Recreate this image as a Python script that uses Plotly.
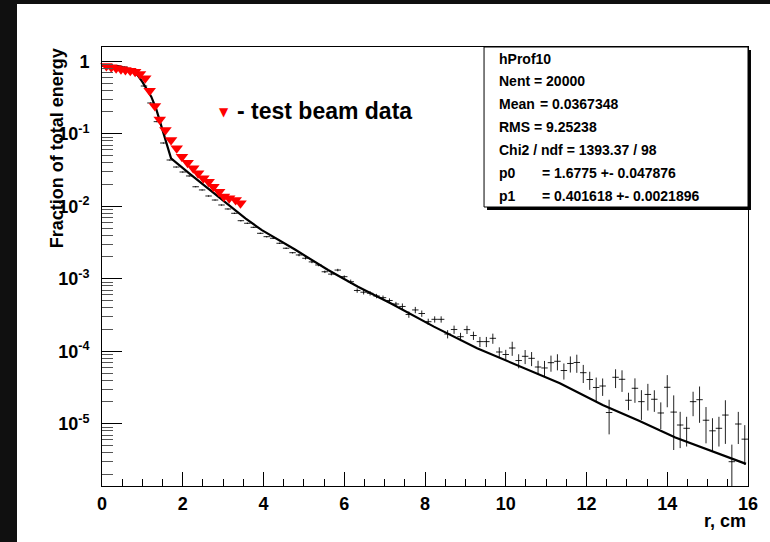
import plotly.graph_objects as go

# ---------------- data ----------------
# profile histogram: 100 bins from 0 to 16 cm
bin_lo = 0.0
bin_w = 0.16
n_bins = 100
hist_vals = [
    0.889, 0.875, 0.861, 0.834, 0.771, 0.647, 0.456, 0.266, 0.147, 0.0746,
    0.0435, 0.0348, 0.0297, 0.0262, 0.0186, 0.0168, 0.01387, 0.0122, 0.01042, 0.00918,
    0.0080, 6.33e-3, 5.83e-3, 5.13e-3, 4.24e-3, 3.81e-3, 3.62e-3, 3.09e-3, 2.64e-3, 2.29e-3,
    2.13e-3, 1.92e-3, 1.71e-3, 1.55e-3, 1.25e-3, 1.16e-3, 1.32e-3, 1.07e-3, 9.12e-4, 6.90e-4,
    6.53e-4, 6.31e-4, 5.79e-4, 5.49e-4, 5.02e-4, 4.49e-4, 4.15e-4, 3.22e-4, 3.72e-4, 3.32e-4,
    2.56e-4, 2.76e-4, 2.76e-4, 1.73e-4, 2.00e-4, 1.59e-4, 1.99e-4, 1.65e-4, 1.36e-4, 1.36e-4,
    1.51e-4, 9.78e-5, 9.03e-5, 1.11e-4, 7.46e-5, 8.53e-5, 8.0e-5, 6.07e-5, 5.89e-5, 6.97e-5,
    7.28e-5, 5.43e-5, 6.79e-5, 7.01e-5, 5.07e-5, 4.08e-5, 3.17e-5, 3.32e-5, 1.43e-5, 4.38e-5,
    4.11e-5, 2.11e-5, 3.09e-5, 2.02e-5, 2.54e-5, 2.18e-5, 1.41e-5, 3.19e-5, 1.45e-5, 9.62e-6,
    8.67e-6, 2.02e-5, 2.15e-5, 1.12e-5, 8.0e-6, 8.67e-6, 1.32e-5, 3.0e-6, 9.93e-6, 6.14e-6,
]
hist_err_rel = [
    0.01, 0.01, 0.01, 0.01, 0.01, 0.01, 0.01, 0.01, 0.01, 0.01,
    0.01, 0.01, 0.01, 0.01, 0.01, 0.01, 0.01, 0.01, 0.01, 0.01,
    0.02, 0.02, 0.02, 0.02, 0.02, 0.02, 0.02, 0.02, 0.02, 0.02,
    0.04, 0.04, 0.04, 0.04, 0.04, 0.04, 0.04, 0.04, 0.07, 0.07,
    0.07, 0.07, 0.07, 0.07, 0.07, 0.07, 0.10, 0.10, 0.10, 0.10,
    0.10, 0.10, 0.10, 0.13, 0.13, 0.13, 0.13, 0.13, 0.16, 0.16,
    0.16, 0.16, 0.16, 0.22, 0.22, 0.22, 0.22, 0.22, 0.25, 0.25,
    0.25, 0.25, 0.25, 0.28, 0.28, 0.28, 0.37, 0.27, 0.50, 0.29,
    0.33, 0.27, 0.37, 0.44, 0.40, 0.33, 0.40, 0.47, 0.70, 0.52,
    0.44, 0.37, 0.52, 0.52, 0.49, 0.44, 0.60, 0.72, 0.47, 0.56,
]

# fit curve
fit_r = [0.0, 0.4, 0.7, 0.85, 1.0, 1.22, 1.34, 1.49, 1.60, 1.71, 2.16, 2.57, 3.07,
         3.56, 3.96, 4.79, 5.60, 6.34, 7.16, 8.22, 9.29, 10.19, 11.34, 12.4, 13.3,
         14.2, 15.1, 15.95]
fit_v = [0.87, 0.85, 0.77, 0.68, 0.52, 0.325, 0.222, 0.115, 0.072, 0.0457, 0.0285,
         0.0186, 0.01096, 6.76e-3, 4.68e-3, 2.51e-3, 1.32e-3, 7.76e-4, 4.57e-4,
         2.19e-4, 1.10e-4, 6.76e-5, 3.63e-5, 1.82e-5, 1.10e-5, 6.46e-6, 4.17e-6,
         2.80e-6]

# test beam data
tb_r = [0.11, 0.23, 0.35, 0.47, 0.58, 0.70, 0.82, 0.94, 1.07, 1.18, 1.31, 1.43,
        1.57, 1.71, 1.85, 1.98, 2.12, 2.26, 2.38, 2.51, 2.64, 2.76, 2.90, 3.02,
        3.15, 3.31, 3.43]
tb_v = [0.861, 0.826, 0.800, 0.776, 0.759, 0.742, 0.719, 0.668, 0.583, 0.393,
        0.242, 0.158, 0.113, 0.0821, 0.0631, 0.0483, 0.0399, 0.0334, 0.0285,
        0.0243, 0.0218, 0.0186, 0.0159, 0.0136, 0.0129, 0.0122, 0.0110]

y_tickvals = [1e-5, 1e-4, 1e-3, 1e-2, 1e-1, 1]
y_ticktext = ["10<sup>-5</sup>", "10<sup>-4</sup>", "10<sup>-3</sup>",
              "10<sup>-2</sup>", "10<sup>-1</sup>", "1"]

stats_lines = [
    ("hProf10", None),
    ("Nent = 20000", None),
    ("Mean", "= 0.0367348"),
    ("RMS", "= 9.25238"),
    ("Chi2 / ndf = 1393.37 / 98", None),
    ("p0", "= 1.6775 +- 0.047876"),
    ("p1", "= 0.401618 +- 0.0021896"),
]

# ---------------- layout helpers ----------------
# the page is 770x542; the figure (white canvas) sits at left=17, top=4 on a dark page
PAGE_W, PAGE_H = 770, 542
OFF_X, OFF_Y = 17, 4
W, H = PAGE_W - OFF_X, PAGE_H - OFF_Y
PLOT_L, PLOT_R, PLOT_T, PLOT_B = 102, 753, 47, 486   # page pixels of the plot frame
L, R, T, B = PLOT_L - OFF_X, PAGE_W - PLOT_R, PLOT_T - OFF_Y, PAGE_H - PLOT_B
PW, PH = PLOT_R - PLOT_L, PLOT_B - PLOT_T


def fx(p):
    return (p - PLOT_L) / PW


def fy(p):
    return (PLOT_B - p) / PH


FONT = "Liberation Sans, Arial, Helvetica, sans-serif"

bin_c = [bin_lo + bin_w * (i + 0.5) for i in range(n_bins)]
hist_err = [v * e for v, e in zip(hist_vals, hist_err_rel)]

# minor tick positions of the log axis (2..9 x each decade)
minor_vals = [m * 10.0 ** e for e in range(-6, 1) for m in range(2, 10)]

fig = go.Figure()

fig.add_trace(go.Scatter(
    x=bin_c, y=hist_vals, mode="markers",
    marker=dict(size=1, color="black"),
    error_x=dict(type="constant", value=bin_w / 2, width=0, thickness=1, color="#222"),
    error_y=dict(type="data", array=hist_err, width=0, thickness=1, color="#222"),
    showlegend=False, hoverinfo="skip",
))

fig.add_trace(go.Scatter(
    x=fit_r, y=fit_v, mode="lines",
    line=dict(color="black", width=2.2),
    showlegend=False, hoverinfo="skip",
))

fig.add_trace(go.Scatter(
    x=tb_r, y=tb_v, mode="markers",
    marker=dict(symbol="triangle-down", size=11, color="#ff0000", line=dict(width=0)),
    cliponaxis=False, showlegend=False, hoverinfo="skip",
))

shapes = []
# stats box shadow and box
shapes.append(dict(type="rect", xref="paper", yref="paper", layer="above",
                   x0=fx(490), x1=fx(756), y0=fy(210), y1=fy(50),
                   fillcolor="black", line=dict(width=0)))
shapes.append(dict(type="rect", xref="paper", yref="paper", layer="above",
                   x0=fx(487), x1=fx(753), y0=fy(207), y1=fy(47),
                   fillcolor="white", line=dict(color="black", width=1)))

annotations = []
line_y = [59, 81, 104, 127, 150, 173, 196]
val_x = {"Mean": 541, "RMS": 535, "p0": 543, "p1": 543}
for (lab, val), yy in zip(stats_lines, line_y):
    annotations.append(dict(xref="paper", yref="paper", x=fx(500), y=fy(yy),
                            xanchor="left", yanchor="middle", showarrow=False,
                            text=lab, font=dict(family=FONT, size=14, color="black", weight="bold")))
    if val is not None:
        annotations.append(dict(xref="paper", yref="paper", x=fx(val_x[lab]), y=fy(yy),
                                xanchor="left", yanchor="middle", showarrow=False,
                                text=val, font=dict(family=FONT, size=14, color="black", weight="bold")))

# legend-like label
annotations.append(dict(xref="paper", yref="paper", x=fx(225), y=fy(112),
                        xanchor="center", yanchor="middle", showarrow=False,
                        text="▼", font=dict(family="DejaVu Sans", size=12, color="#ff0000")))
annotations.append(dict(xref="paper", yref="paper", x=fx(236), y=fy(111),
                        xanchor="left", yanchor="middle", showarrow=False,
                        text="- test beam data",
                        font=dict(family=FONT, size=23, color="black", weight="bold")))
# axis titles
annotations.append(dict(xref="paper", yref="paper", x=fx(57), y=fy(148),
                        xanchor="center", yanchor="middle", showarrow=False, textangle=-90,
                        text="Fraction of total energy",
                        font=dict(family=FONT, size=18, color="black", weight="bold")))
annotations.append(dict(xref="paper", yref="paper", x=fx(753), y=fy(521),
                        xanchor="right", yanchor="middle", showarrow=False,
                        text="r, cm",
                        font=dict(family=FONT, size=18, color="black", weight="bold")))

fig.update_layout(
    width=W, height=H, autosize=False,
    margin=dict(l=L, r=R, t=T, b=B, pad=0),
    paper_bgcolor="white", plot_bgcolor="white",
    shapes=shapes, annotations=annotations,
    xaxis=dict(
        range=[0, 16], tickmode="linear", tick0=0, dtick=2,
        ticks="inside", ticklen=14, tickwidth=1, tickcolor="black",
        showline=True, linecolor="black", linewidth=1, mirror=True,
        showgrid=False, zeroline=False,
        tickfont=dict(family=FONT, size=18, color="black", weight="bold"),
        ticklabelstandoff=1,
        minor=dict(tickmode="linear", tick0=0, dtick=0.5, ticks="inside", ticklen=7,
                   tickwidth=1, tickcolor="black", showgrid=False),
    ),
    yaxis=dict(
        type="log", range=[-5.858, 0.197],
        tickmode="array", tickvals=y_tickvals, ticktext=y_ticktext,
        ticks="inside", ticklen=20, tickwidth=1, tickcolor="black",
        showline=True, linecolor="black", linewidth=1, mirror=True,
        showgrid=False, zeroline=False,
        tickfont=dict(family=FONT, size=18, color="black", weight="bold"),
        ticklabelstandoff=8,
        minor=dict(tickmode="array", tickvals=minor_vals, ticks="inside", ticklen=11,
                   tickwidth=1, tickcolor="#555", showgrid=False),
    ),
)

post = (
    "document.documentElement.style.background='#101010';"
    "document.body.style.margin='0';"
    "document.body.style.overflow='hidden';"
    "document.body.style.background='#101010';"
    "var d=document.getElementById('{plot_id}');"
    "d.style.position='absolute';d.style.left='%dpx';d.style.top='%dpx';" % (OFF_X, OFF_Y)
)

fig.write_html("out.html", config={"displayModeBar": False}, post_script=post)
